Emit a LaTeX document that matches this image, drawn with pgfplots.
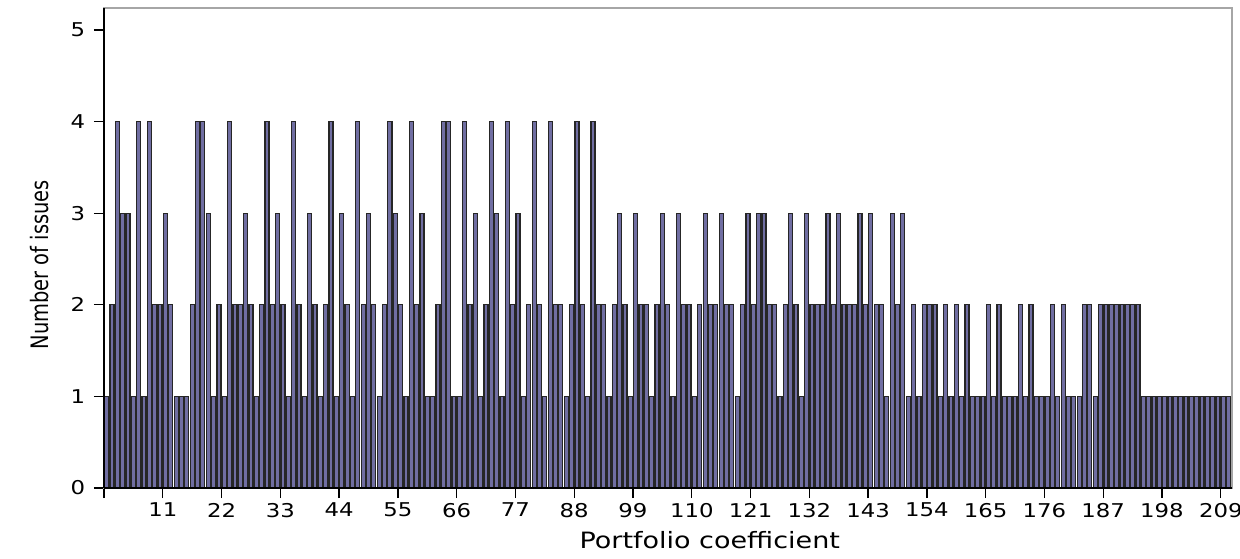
\documentclass[border=0pt]{standalone}
\usepackage{pgfplots}
\usepackage{pgfplotstable}
\pgfplotsset{compat=1.18}
\usepackage{fontspec}
\setmainfont{DejaVu Sans}
\newfontfamily\tickfont{DejaVu Sans}[FakeStretch=1.2]
\newfontfamily\ylabfont{DejaVu Sans}[FakeStretch=0.81]
\definecolor{barfill}{RGB}{112,110,162}

\pgfplotstableread[row sep=\\]{
v\\1\\2\\4\\3\\3\\1\\4\\1\\4\\2\\2\\3\\2\\1\\1\\1\\2\\4\\4\\3\\1\\
2\\1\\4\\2\\2\\3\\2\\1\\2\\4\\2\\3\\2\\1\\4\\2\\1\\3\\2\\1\\2\\
4\\1\\3\\2\\1\\4\\2\\3\\2\\1\\2\\4\\3\\2\\1\\4\\2\\3\\1\\1\\2\\
4\\4\\1\\1\\4\\2\\3\\1\\2\\4\\3\\1\\4\\2\\3\\1\\2\\4\\2\\1\\4\\
2\\2\\1\\2\\4\\2\\1\\4\\2\\2\\1\\2\\3\\2\\1\\3\\2\\2\\1\\2\\3\\
2\\1\\3\\2\\2\\1\\2\\3\\2\\2\\3\\2\\2\\1\\2\\3\\2\\3\\3\\2\\2\\
1\\2\\3\\2\\1\\3\\2\\2\\2\\3\\2\\3\\2\\2\\2\\3\\2\\3\\2\\2\\1\\
3\\2\\3\\1\\2\\1\\2\\2\\2\\1\\2\\1\\2\\1\\2\\1\\1\\1\\2\\1\\2\\
1\\1\\1\\2\\1\\2\\1\\1\\1\\2\\1\\2\\1\\1\\1\\2\\2\\1\\2\\2\\2\\2\\
2\\2\\2\\2\\
1\\1\\1\\1\\1\\1\\1\\1\\1\\1\\1\\1\\1\\1\\1\\1\\1\\
}\datatable

\begin{document}
\begin{tikzpicture}
\path[use as bounding box] (0,0) rectangle (496pt,223.2pt);
\begin{axis}[
  at={(41.6pt,28pt)}, anchor=south west,
  scale only axis,
  width=451.2pt, height=192pt,
  xmin=0, xmax=211.1,
  ymin=0, ymax=5.24,
  ybar, bar width=0.75,
  axis line style={gray!70, line width=0.5pt},
  xtick={0,11,...,209},
  xticklabels={{},11,22,33,44,55,66,77,88,99,110,121,132,143,154,165,176,187,198,209},
  ytick={0,1,2,3,4,5},
  tick align=outside,
  major tick length=4pt,
  tick style={black, line width=0.5pt},
  xtick pos=bottom, ytick pos=left,
  /pgf/number format/assume math mode=true,
  ticklabel style={font=\tickfont\fontsize{7.6}{9}\selectfont},
  xticklabel style={yshift=1.5pt},
  xlabel={Portfolio coefficient},
  ylabel={Number of issues},
  xlabel style={font=\tickfont\fontsize{9}{11}\selectfont, at={(axis description cs:0.537,-0.108)}, anchor=center},
  ylabel style={font=\ylabfont\fontsize{9.6}{11}\selectfont, at={(axis description cs:-0.057,0.465)}, anchor=center, rotate=0},
  clip=false,
]
\addplot[draw=black!85, line width=0.5pt, fill=barfill] table[x expr=\coordindex+0.5, y=v] {\datatable};
\draw[black, line width=0.6pt] (rel axis cs:0,0) -- (rel axis cs:0,1);
\draw[black, line width=0.6pt] (rel axis cs:0,0) -- (rel axis cs:1,0);
\end{axis}
\end{tikzpicture}
\end{document}
